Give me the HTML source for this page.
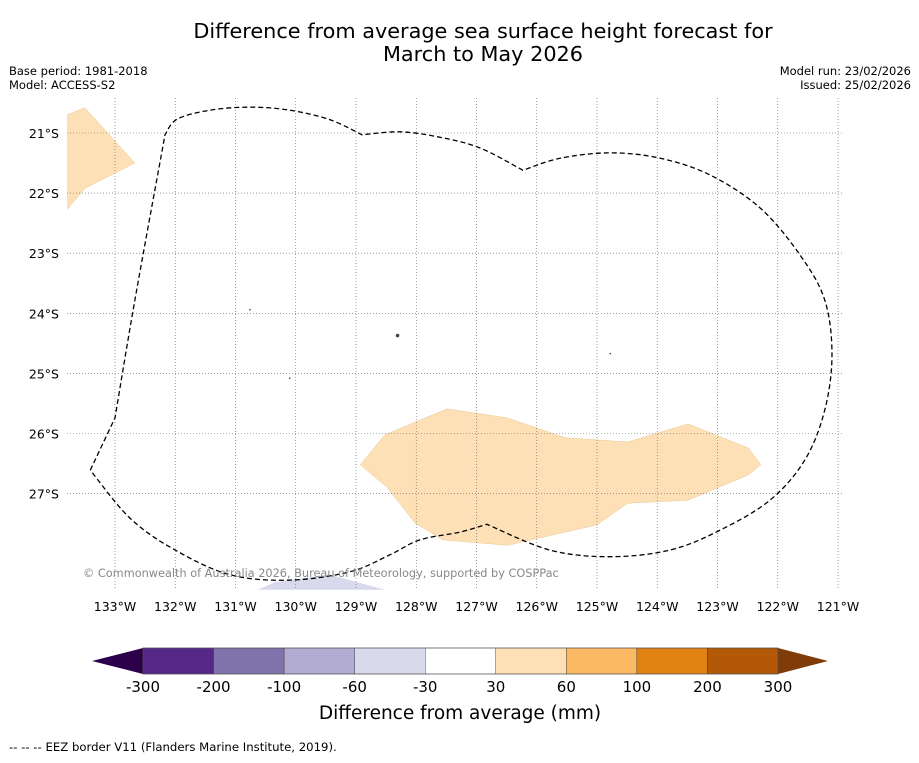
<!DOCTYPE html>
<html><head><meta charset="utf-8">
<style>
body{margin:0;background:#fff;font-family:"Liberation Sans","DejaVu Sans",sans-serif;}
svg text{font-family:"DejaVu Sans","Liberation Sans",sans-serif;}
</style></head>
<body>
<svg id="chart" width="919" height="758" xmlns="http://www.w3.org/2000/svg">
<rect width="919" height="758" fill="#fff"/>
<text x="483" y="38" font-size="20.8" text-anchor="middle">Difference from average sea surface height forecast for</text>
<text x="483" y="61" font-size="20.8" text-anchor="middle">March to May 2026</text>
<text x="9" y="75" font-size="11.5">Base period: 1981-2018</text>
<text x="9" y="89" font-size="11.5">Model: ACCESS-S2</text>
<text x="911" y="75" font-size="11.5" text-anchor="end">Model run: 23/02/2026</text>
<text x="911" y="89" font-size="11.5" text-anchor="end">Issued: 25/02/2026</text>
<g id="map"></g>
<g id="cbar"></g>
<text x="460" y="719" font-size="18.5" text-anchor="middle">Difference from average (mm)</text>
<text x="9" y="751" font-size="11.7">--  --  -- EEZ border V11 (Flanders Marine Institute, 2019).</text>
</svg>
<script>
const lonTicks=[-133,-132,-131,-130,-129,-128,-127,-126,-125,-124,-123,-122,-121];
const latTicks=[-21,-22,-23,-24,-25,-26,-27];
const eezLon=[-133.41,-133,-132.67,-132.17,-131.97,-131.42,-130.76,-130.10,-129.43,-128.90,-128.27,-127.61,-126.94,-126.23,-125.61,-124.78,-123.95,-123.12,-122.29,-121.63,-121.22,-121.10,-121.22,-121.55,-122.13,-122.96,-123.79,-124.78,-125.78,-126.83,-127.27,-127.94,-128.44,-129.10,-130.10,-131.09,-132.00,-132.75,-133.41];
const eezLat=[-26.61,-25.74,-23.78,-21.03,-20.77,-20.62,-20.57,-20.62,-20.78,-21.03,-20.98,-21.07,-21.25,-21.62,-21.42,-21.33,-21.42,-21.70,-22.25,-23.03,-23.78,-24.69,-25.61,-26.44,-27.11,-27.61,-27.94,-28.05,-27.94,-27.51,-27.64,-27.77,-28.02,-28.30,-28.44,-28.35,-27.94,-27.41,-26.61];
const eezCorner=[1,1,0,1,0,0,0,0,0,1,0,0,0,1,0,0,0,0,0,0,0,0,0,0,0,0,0,0,0,1,0,0,0,0,0,0,0,0,1];
const blob1Lon=[-128.93,-128.52,-127.49,-126.49,-125.53,-124.49,-123.49,-122.49,-122.28,-122.49,-123.49,-124.49,-125.0,-126.48,-127.56,-128.02,-128.49];
const blob1Lat=[-26.52,-26.02,-25.59,-25.74,-26.07,-26.14,-25.84,-26.24,-26.52,-26.69,-27.11,-27.16,-27.52,-27.86,-27.77,-27.49,-26.89];
const blob2Lon=[-133.80,-133.50,-132.67,-133.50,-133.80];
const blob2Lat=[-20.70,-20.58,-21.50,-21.92,-22.28];
const blob3Lon=[-130.63,-130.34,-129.43,-128.52];
const blob3Lat=[-28.60,-28.47,-28.35,-28.60];
const islandLon=[-130.76,-128.31,-124.78,-130.10];
const islandLat=[-23.94,-24.37,-24.67,-25.08];
const cbBounds=[-300,-200,-100,-60,-30,30,60,100,200,300];
const cbColors=["#542788","#8073ac","#b2abd2","#d8daeb","#ffffff","#fee0b6","#fdb863","#e08214","#b35806"];
const cbExt=["#2d004b","#7f3b08"];

const NS="http://www.w3.org/2000/svg";
const X0=67,X1=843,Y0=98,Y1=590;
const xs=lon=>115+(lon+133)*60.25;
const ys=lat=>133+(-21-lat)*60.1;
function mk(tag,attrs,parent){const e=document.createElementNS(NS,tag);for(const k in attrs)e.setAttribute(k,attrs[k]);parent.appendChild(e);return e;}
const map=document.getElementById('map');
const defs=mk('defs',{},map);
const cp=mk('clipPath',{id:'clip'},defs);
mk('rect',{x:X0,y:Y0,width:X1-X0,height:Y1-Y0},cp);
const g=mk('g',{'clip-path':'url(#clip)'},map);
function poly(lons,lats,attrs,name){
  const p=mk('polygon',Object.assign({points:lons.map((l,i)=>xs(l)+','+ys(lats[i])).join(' ')},attrs),g);
  
  
}
poly(blob1Lon,blob1Lat,{fill:'#fee0b6',stroke:'#e8c898','stroke-width':0.5},'positive-anomaly-region');
poly(blob2Lon,blob2Lat,{fill:'#fee0b6',stroke:'#e8c898','stroke-width':0.5},'positive-anomaly-region-nw');
poly(blob3Lon,blob3Lat,{fill:'#d8daeb'},'negative-anomaly-region');
lonTicks.forEach((lon,i)=>{
  const l=mk('line',{x1:xs(lon),x2:xs(lon),y1:Y0,y2:Y1,stroke:'#666','stroke-width':0.6,'stroke-dasharray':'1,2'},g);
  
  
  const t=mk('text',{x:xs(lon),y:611,'font-size':12.5,'text-anchor':'middle'},map);
  t.textContent=Math.abs(lon)+'°W';
  
  
});
latTicks.forEach(lat=>{
  const l=mk('line',{x1:X0,x2:X1,y1:ys(lat),y2:ys(lat),stroke:'#666','stroke-width':0.6,'stroke-dasharray':'1,2'},g);
  
  
  const t=mk('text',{x:59,y:ys(lat)+5,'font-size':12.5,'text-anchor':'end'},map);
  t.textContent=Math.abs(lat)+'°S';
  
  
});
islandLon.forEach((l,i)=>{
  const c=mk('circle',{cx:xs(l),cy:ys(islandLat[i]),r:i==1?1.8:0.8,fill:'#444'},g);
  
  
});
const P=eezLon.map((l,i)=>[xs(l),ys(eezLat[i])]);
let d='M'+P[0][0]+','+P[0][1];
for(let i=0;i<P.length-1;i++){
  const p0=(eezCorner[i]?P[i]:P[Math.max(i-1,0)]),p1=P[i],p2=P[i+1],p3=(eezCorner[i+1]?P[i+1]:P[Math.min(i+2,P.length-1)]);
  const c1=[p1[0]+(p2[0]-p0[0])/6,p1[1]+(p2[1]-p0[1])/6];
  const c2=[p2[0]-(p3[0]-p1[0])/6,p2[1]-(p3[1]-p1[1])/6];
  d+=` C${c1[0]},${c1[1]} ${c2[0]},${c2[1]} ${p2[0]},${p2[1]}`;
}
const eez=mk('path',{d:d,fill:'none',stroke:'#000','stroke-width':1.3,'stroke-dasharray':'5,3'},g);


const cr=mk('text',{x:83,y:577,'font-size':11.3,fill:'#888'},map);
cr.textContent='© Commonwealth of Australia 2026, Bureau of Meteorology, supported by COSPPac';



const cb=document.getElementById('cbar');
const CX0=143,CX1=778,CY0=648,CY1=674,n=cbColors.length,w=(CX1-CX0)/n;
const tl=mk('polygon',{points:`${CX0},${CY0} 92,${(CY0+CY1)/2} ${CX0},${CY1}`,fill:cbExt[0]},cb);


const tr=mk('polygon',{points:`${CX1},${CY0} 828,${(CY0+CY1)/2} ${CX1},${CY1}`,fill:cbExt[1]},cb);


cbColors.forEach((c,i)=>{
  const r=mk('rect',{x:CX0+i*w,y:CY0,width:w,height:CY1-CY0,fill:c,stroke:'#333','stroke-width':0.4},cb);
  
  
});
mk('rect',{x:CX0,y:CY0,width:CX1-CX0,height:CY1-CY0,fill:'none',stroke:'#555','stroke-width':0.6},cb);
cbBounds.forEach((b,i)=>{
  const t=mk('text',{x:CX0+i*w,y:692,'font-size':15,'text-anchor':'middle'},cb);
  t.textContent=b;
  
  
});
</script>
</body></html>
